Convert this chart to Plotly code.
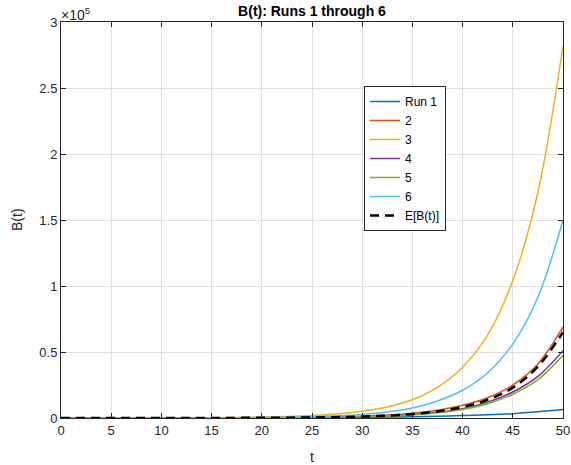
import plotly.graph_objects as go

t = [0, 2.5, 5, 7.5, 10, 12.5, 15, 17.5, 20, 22.5, 25, 27.5, 30, 32.5, 35, 37.5, 40, 42.5, 45, 47.5, 50]

run1 = [12, 16, 22, 30, 41, 56, 77, 105, 145, 200, 270, 370, 500, 700, 950, 1300, 1800, 2400, 3300, 4700, 6400]
run2 = [3.4, 5.6, 9, 15, 25, 42, 68, 112, 185, 300, 500, 820, 1350, 2200, 3600, 5900, 9600, 15300, 25000, 41000, 69000]
run3 = [13, 21, 35, 58, 95, 155, 260, 420, 700, 1150, 1900, 3100, 5200, 8400, 13800, 23200, 38500, 63000, 104000, 171000, 282000]
run4 = [2.3, 3.8, 6.3, 10, 17, 28, 47, 78, 128, 210, 350, 580, 960, 1600, 2600, 4300, 7100, 12000, 19700, 31500, 51000]
run5 = [2.2, 3.6, 5.9, 9.7, 16, 26, 44, 72, 118, 195, 320, 530, 870, 1430, 2350, 3900, 6400, 10800, 18000, 29000, 47500]
run6 = [7, 12, 20, 32, 52, 85, 140, 225, 370, 610, 1000, 1650, 2700, 4600, 7500, 12900, 21000, 34300, 56000, 91500, 150000]
expected = [2.5, 4.2, 7, 12, 19, 32, 53, 88, 145, 240, 400, 660, 1100, 1800, 3000, 5000, 8300, 13800, 23000, 39000, 65000]

series_names = ["Run 1", "2", "3", "4", "5", "6"]
series_values = [run1, run2, run3, run4, run5, run6]
colors = ["#0072BD", "#D95319", "#EDB120", "#7E2F8E", "#77AC30", "#4DBEEE"]

x_ticks = [0, 5, 10, 15, 20, 25, 30, 35, 40, 45, 50]
y_ticks = [0, 50000, 100000, 150000, 200000, 250000, 300000]
y_tick_labels = ["0", "0.5", "1", "1.5", "2", "2.5", "3"]

FONT = "Liberation Sans, Arial, Helvetica, sans-serif"
AX = "#262626"

L, R, T, B = 61, 563, 22, 418
W, H = 571, 465

fig = go.Figure()
for name, vals, c in zip(series_names, series_values, colors):
    fig.add_trace(go.Scatter(x=t, y=vals, mode="lines", name=name,
                             line=dict(color=c, width=1.5, shape="spline")))
fig.add_trace(go.Scatter(x=t, y=expected, mode="lines", name="E[B(t)]",
                         line=dict(color="black", width=2.5, dash="9px,6px", shape="spline")))

axis_common = dict(showline=True, linecolor=AX, linewidth=1, mirror="allticks",
                   ticks="inside", ticklen=5, tickcolor=AX, tickwidth=1,
                   showgrid=True, gridcolor="#dfdfdf", gridwidth=1, zeroline=False,
                   automargin=False,
                   tickfont=dict(family=FONT, size=13, color=AX))

fig.update_xaxes(range=[0, 50], tickvals=x_ticks, **axis_common)
fig.update_yaxes(range=[0, 300000], tickvals=y_ticks, ticktext=y_tick_labels, **axis_common)

pw, ph = R - L, B - T
# axis titles
fig.add_annotation(text="t", xref="paper", yref="paper", x=0.5, y=-(457 - B) / ph,
                   xanchor="center", yanchor="middle", showarrow=False,
                   font=dict(family=FONT, size=14, color=AX))
fig.add_annotation(text="B(t)", xref="paper", yref="paper", x=-(L - 17) / pw, y=0.5,
                   xanchor="center", yanchor="middle", showarrow=False, textangle=-90,
                   font=dict(family=FONT, size=14, color=AX))
# exponent label
fig.add_annotation(text="×10<sup>5</sup>", xref="paper", yref="paper", x=0, y=1,
                   xanchor="left", yanchor="bottom", showarrow=False, xshift=-2, yshift=-3,
                   font=dict(family=FONT, size=14, color=AX))

fig.update_layout(
    width=W, height=H,
    margin=dict(l=L, r=W - R, t=T, b=H - B, autoexpand=False),
    paper_bgcolor="white", plot_bgcolor="white",
    title=dict(text="<b>B(t): Runs 1 through 6</b>", x=(L + R) / 2 / W, xanchor="center",
               y=1 - 11 / H, yanchor="middle",
               font=dict(family=FONT, size=14, color="black")),
    legend=dict(x=(364 - L) / pw, y=(B - 86) / ph, xanchor="left", yanchor="top",
                bordercolor=AX, borderwidth=1, bgcolor="white",
                font=dict(family=FONT, size=12, color="black"),
                tracegroupgap=0, itemwidth=30, entrywidth=92, entrywidthmode="pixels"),
    showlegend=True,
)

fig.write_html("out.html", config={"displayModeBar": False},
               post_script="document.body.style.margin='0';document.body.style.padding='0';")
